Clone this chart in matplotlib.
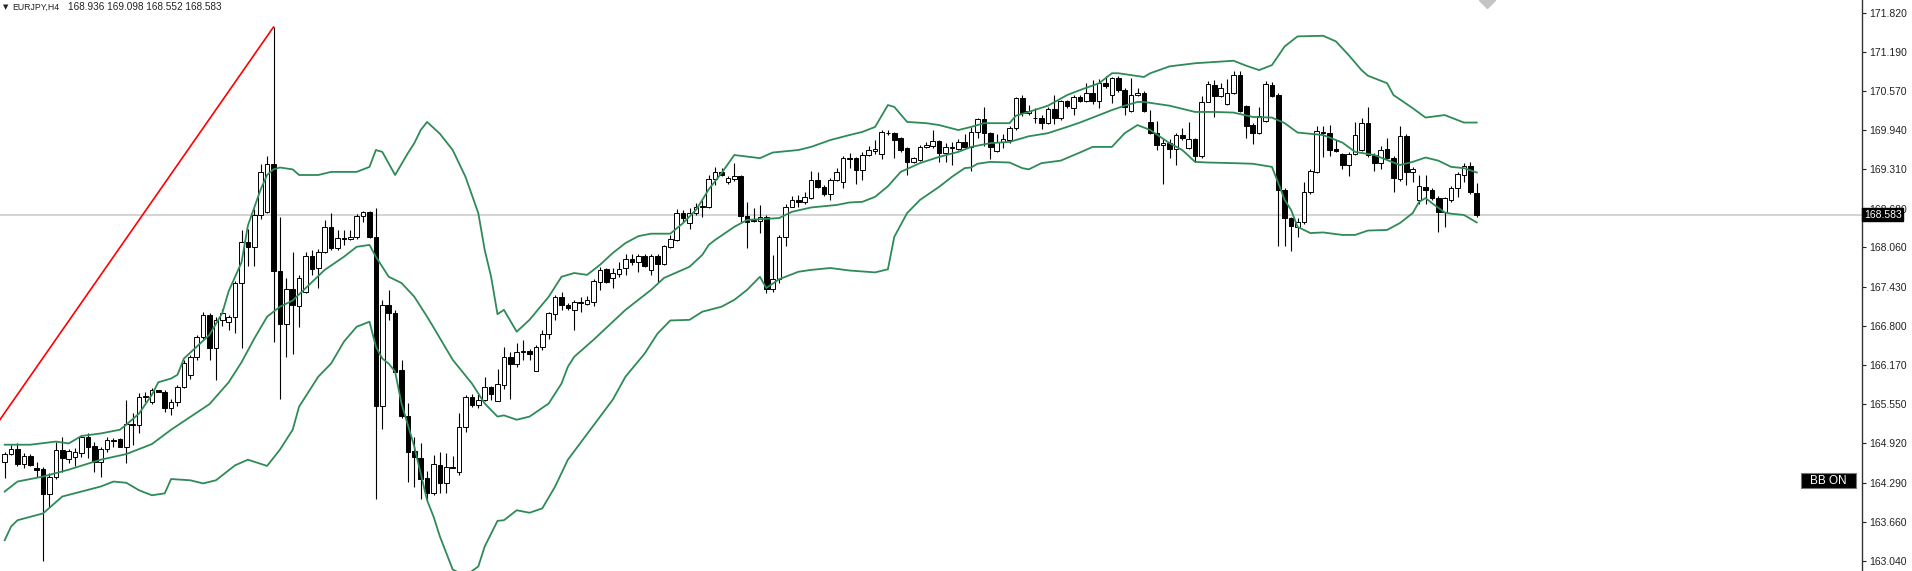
import numpy as np
import matplotlib.pyplot as plt
from matplotlib.patches import Rectangle

plt.rcParams['font.family'] = ['Liberation Sans', 'DejaVu Sans']

symbol = "EURJPY,H4"
last_ohlc = "168.936 169.098 168.552 168.583"
last_price = 168.583

# H4 candles, oldest first
opens = [
    164.62, 164.75, 164.83, 164.59, 164.72, 164.53, 164.51, 164.11, 164.38, 164.82,
    164.67, 164.70, 164.77, 165.02, 164.88, 164.63, 164.83, 164.98, 164.99, 164.87,
    165.23, 165.21, 165.66, 165.58, 165.77, 165.75, 165.48, 165.58, 165.83, 166.01,
    166.31, 166.63, 166.98, 166.45, 166.89, 166.87, 166.95, 167.49, 168.14, 168.06,
    168.58, 168.63, 169.39, 167.68, 166.84, 167.39, 167.12, 167.35, 167.92, 167.73,
    167.99, 168.39, 168.05, 168.21, 168.19, 168.23, 168.56, 168.62, 168.22, 165.52,
    167.14, 167.01, 166.09, 165.36, 164.80, 164.68, 164.36, 164.12, 164.58, 164.28,
    164.55, 164.47, 165.19, 165.67, 165.54, 165.61, 165.82, 165.60, 165.86, 166.30,
    166.20, 166.38, 166.40, 166.08, 166.46, 166.67, 166.99, 167.27, 167.14, 167.05,
    167.17, 167.15, 167.19, 167.51, 167.71, 167.57, 167.63, 167.73, 167.87, 167.82,
    167.92, 167.70, 167.92, 167.79, 168.07, 168.18, 168.61, 168.45, 168.61, 168.72,
    168.71, 169.15, 169.26, 169.10, 169.15, 169.20, 168.57, 168.50, 168.49, 168.55,
    167.39, 167.55, 168.22, 168.71, 168.82, 168.78, 168.85, 169.14, 169.03, 168.92,
    169.14, 169.10, 169.50, 169.49, 169.30, 169.54, 169.61, 169.56, 169.90, 169.89,
    169.81, 169.65, 169.43, 169.46, 169.67, 169.69, 169.76, 169.57, 169.66, 169.63,
    169.75, 169.67, 169.91, 170.11, 169.89, 169.61, 169.75, 169.78, 169.97, 170.45,
    170.21, 170.13, 170.13, 170.06, 170.27, 170.13, 170.40, 170.30, 170.47, 170.41,
    170.53, 170.41, 170.70, 170.50, 170.77, 170.58, 170.25, 170.50, 170.54, 170.07,
    169.90, 169.70, 169.74, 169.63, 169.86, 169.65, 169.79, 169.52, 170.39, 170.66,
    170.49, 170.36, 170.54, 170.82, 170.33, 170.02, 169.89, 170.09, 170.66, 170.50,
    168.98, 168.53, 168.39, 168.46, 168.94, 169.27, 169.91, 169.89, 169.63, 169.56,
    169.38, 169.56, 169.62, 170.06, 169.54, 169.41, 169.63, 169.50, 169.15, 169.85,
    169.27, 168.82, 169.02, 168.98, 168.85, 168.62, 168.82, 169.01, 169.22, 169.36,
    168.936,
]
highs = [
    164.79, 164.90, 164.93, 164.77, 164.75, 164.62, 164.54, 164.45, 164.95, 165.03,
    164.83, 164.84, 165.06, 165.09, 164.95, 164.86, 165.03, 165.00, 165.01, 165.62,
    165.40, 165.73, 165.75, 165.81, 165.78, 165.78, 165.64, 165.86, 166.25, 166.34,
    166.66, 167.02, 167.01, 166.95, 167.07, 166.98, 167.52, 168.34, 168.35, 168.67,
    169.40, 169.53, 171.59, 168.55, 167.57, 167.98, 167.62, 167.98, 168.02, 168.03,
    168.50, 168.61, 168.34, 168.34, 168.34, 168.60, 168.65, 168.64, 168.69, 167.22,
    167.38, 167.06, 166.25, 165.56, 165.03, 164.92, 164.48, 164.74, 164.79, 164.76,
    164.72, 165.40, 165.70, 165.72, 165.72, 165.99, 165.84, 166.12, 166.47, 166.39,
    166.53, 166.57, 166.43, 166.50, 166.74, 167.03, 167.30, 167.35, 167.17, 167.22,
    167.27, 167.28, 167.55, 167.75, 167.73, 167.73, 167.83, 167.95, 167.95, 167.95,
    167.95, 167.95, 167.95, 168.10, 168.26, 168.67, 168.66, 168.69, 168.77, 168.82,
    169.22, 169.35, 169.34, 169.20, 169.41, 169.22, 168.78, 168.69, 168.74, 168.58,
    167.94, 168.26, 168.76, 168.88, 168.90, 168.95, 169.29, 169.27, 169.06, 169.17,
    169.33, 169.52, 169.58, 169.51, 169.59, 169.68, 169.78, 169.94, 169.94, 169.91,
    169.83, 169.67, 169.51, 169.70, 169.75, 169.94, 169.78, 169.73, 169.75, 169.79,
    169.88, 169.99, 170.14, 170.31, 169.91, 169.88, 169.88, 170.01, 170.47, 170.50,
    170.34, 170.29, 170.18, 170.31, 170.50, 170.42, 170.42, 170.50, 170.50, 170.70,
    170.74, 170.75, 170.80, 170.79, 170.80, 170.61, 170.78, 170.61, 170.57, 170.26,
    170.09, 169.79, 169.79, 169.89, 169.97, 170.07, 169.81, 170.49, 170.73, 170.74,
    170.69, 170.75, 170.89, 170.88, 170.34, 170.05, 170.31, 170.73, 170.71, 170.53,
    169.01, 168.55, 168.53, 169.10, 169.32, 170.01, 170.00, 170.02, 169.78, 169.57,
    169.59, 170.07, 170.14, 170.31, 169.57, 169.69, 169.82, 169.52, 170.00, 169.88,
    169.35, 169.22, 169.22, 169.01, 168.88, 168.87, 169.04, 169.27, 169.41, 169.43,
    169.098,
]
lows = [
    164.36, 164.74, 164.56, 164.52, 164.56, 164.39, 163.03, 163.91, 164.35, 164.47,
    164.60, 164.56, 164.71, 164.68, 164.47, 164.39, 164.79, 164.87, 164.86, 164.61,
    164.90, 165.08, 165.59, 165.55, 165.74, 165.43, 165.37, 165.52, 165.81, 165.96,
    166.25, 166.60, 166.25, 165.93, 166.80, 166.74, 166.69, 166.45, 167.77, 167.77,
    168.52, 168.61, 166.54, 165.64, 166.31, 166.36, 166.79, 167.33, 167.62, 167.41,
    167.97, 168.02, 168.02, 168.10, 168.18, 168.19, 168.46, 168.21, 164.03, 165.15,
    166.90, 166.05, 165.33, 164.31, 164.22, 164.03, 164.01, 164.09, 164.13, 164.12,
    164.52, 164.42, 165.11, 165.50, 165.48, 165.60, 165.62, 165.60, 165.80, 165.63,
    166.14, 166.25, 166.25, 166.08, 166.41, 166.60, 166.89, 167.06, 167.05, 166.74,
    167.03, 167.14, 167.12, 167.38, 167.49, 167.41, 167.59, 167.62, 167.78, 167.67,
    167.75, 167.62, 167.50, 167.78, 168.05, 168.16, 168.47, 168.35, 168.58, 168.55,
    168.69, 169.06, 169.20, 169.08, 169.12, 168.47, 168.05, 168.47, 168.29, 167.33,
    167.34, 167.49, 168.08, 168.71, 168.71, 168.76, 168.84, 169.01, 168.88, 168.82,
    169.12, 169.01, 169.33, 169.08, 169.14, 169.52, 169.56, 169.47, 169.86, 169.49,
    169.59, 169.22, 169.41, 169.44, 169.65, 169.65, 169.43, 169.43, 169.38, 169.62,
    169.65, 169.29, 169.81, 169.69, 169.47, 169.59, 169.66, 169.74, 169.94, 170.16,
    170.18, 170.05, 169.95, 170.04, 170.04, 170.10, 170.30, 170.18, 170.39, 170.39,
    170.36, 170.30, 170.62, 170.38, 170.55, 170.18, 170.23, 170.49, 170.23, 169.87,
    169.62, 169.08, 169.49, 169.38, 169.78, 169.64, 169.43, 169.50, 170.39, 170.15,
    170.47, 170.34, 170.52, 170.23, 169.82, 169.72, 169.88, 170.07, 170.47, 168.08,
    168.08, 168.01, 168.22, 168.43, 168.92, 169.25, 169.51, 169.52, 169.59, 169.31,
    169.20, 169.54, 169.60, 169.51, 169.29, 169.31, 169.47, 168.94, 169.12, 169.06,
    169.11, 168.76, 168.76, 168.82, 168.30, 168.39, 168.79, 168.87, 169.11, 168.92,
    168.552,
]
closes = [
    164.75, 164.83, 164.59, 164.72, 164.58, 164.49, 164.11, 164.38, 164.82, 164.68,
    164.80, 164.78, 165.02, 164.87, 164.63, 164.83, 164.98, 164.96, 164.87, 165.23,
    165.21, 165.66, 165.68, 165.78, 165.75, 165.48, 165.58, 165.83, 166.21, 166.31,
    166.63, 166.98, 166.45, 166.89, 167.01, 166.94, 167.49, 168.14, 168.06, 168.58,
    169.27, 169.40, 167.68, 166.84, 167.39, 167.14, 167.57, 167.92, 167.71, 167.99,
    168.39, 168.05, 168.21, 168.19, 168.23, 168.56, 168.62, 168.22, 165.52, 167.14,
    167.01, 166.07, 165.36, 164.79, 164.71, 164.35, 164.12, 164.59, 164.29, 164.55,
    164.53, 165.19, 165.67, 165.54, 165.62, 165.82, 165.71, 165.87, 166.30, 166.20,
    166.38, 166.40, 166.35, 166.47, 166.67, 167.01, 167.27, 167.14, 167.09, 167.19,
    167.18, 167.21, 167.53, 167.70, 167.51, 167.65, 167.72, 167.88, 167.82, 167.92,
    167.76, 167.92, 167.79, 168.09, 168.19, 168.61, 168.53, 168.61, 168.70, 168.70,
    169.16, 169.26, 169.22, 169.17, 169.20, 168.56, 168.47, 168.48, 168.55, 167.39,
    167.55, 168.22, 168.71, 168.82, 168.78, 168.87, 169.14, 169.03, 168.92, 169.14,
    169.26, 169.50, 169.47, 169.30, 169.54, 169.62, 169.63, 169.91, 169.89, 169.78,
    169.62, 169.43, 169.49, 169.67, 169.70, 169.76, 169.57, 169.67, 169.67, 169.75,
    169.67, 169.91, 170.11, 169.89, 169.67, 169.75, 169.79, 169.98, 170.45, 170.21,
    170.24, 170.14, 170.06, 170.27, 170.13, 170.40, 170.33, 170.47, 170.41, 170.53,
    170.41, 170.70, 170.64, 170.77, 170.58, 170.31, 170.50, 170.54, 170.25, 169.90,
    169.70, 169.74, 169.63, 169.86, 169.81, 169.79, 169.52, 170.39, 170.68, 170.49,
    170.62, 170.54, 170.82, 170.25, 170.01, 169.89, 170.16, 170.68, 170.49, 168.98,
    168.53, 168.40, 168.46, 168.94, 169.29, 169.93, 169.89, 169.62, 169.61, 169.38,
    169.56, 169.86, 170.06, 169.54, 169.41, 169.62, 169.50, 169.17, 169.85, 169.27,
    169.31, 169.04, 168.98, 168.85, 168.62, 168.85, 169.01, 169.24, 169.36, 168.94,
    168.583,
]

# Bollinger bands, read at bar indices
upper_idx = [0, 4, 8, 10, 12, 15, 18, 19, 21, 23, 24, 26, 27, 28, 32, 34, 35, 37, 38, 40,
             41, 42, 43, 45, 46, 49, 51, 55, 57, 58, 59, 61, 63, 64, 65, 66, 68, 70, 72, 74,
             75, 76, 77, 78, 80, 82, 85, 87, 89, 91, 93, 95, 97, 99, 101, 104, 106, 108, 109, 110,
             112, 114, 118, 120, 124, 126, 129, 132, 134, 136, 138, 139, 141, 144, 146, 149, 151, 153, 157, 158,
             160, 163, 166, 168, 171, 173, 174, 178, 179, 182, 186, 192, 194, 196, 198, 200, 202, 206, 208, 210,
             212, 213, 216, 217, 219, 220, 222, 225, 228, 230]
upper_val = [164.90, 164.90, 164.95, 164.92, 165.04, 165.08, 165.14, 165.22, 165.40, 165.70,
             165.90, 165.96, 166.02, 166.28, 166.66, 167.01, 167.36, 167.82, 168.41, 168.99,
             169.22, 169.31, 169.34, 169.31, 169.22, 169.22, 169.27, 169.27, 169.35, 169.62,
             169.59, 169.22, 169.57, 169.73, 169.94, 170.07, 169.88, 169.62, 169.19, 168.61,
             168.02, 167.59, 166.99, 167.06, 166.71, 166.90, 167.27, 167.59, 167.65, 167.62,
             167.78, 167.97, 168.13, 168.24, 168.28, 168.28, 168.45, 168.66, 168.82, 168.99,
             169.25, 169.54, 169.49, 169.58, 169.62, 169.67, 169.78, 169.86, 169.91, 169.99,
             170.34, 170.31, 170.07, 170.05, 170.02, 169.94, 169.99, 170.05, 170.05, 170.17,
             170.23, 170.33, 170.50, 170.58, 170.69, 170.85, 170.85, 170.79, 170.85, 170.96,
             171.01, 171.05, 170.97, 170.90, 170.98, 171.28, 171.44, 171.45, 171.36, 171.14,
             170.90, 170.81, 170.69, 170.50, 170.36, 170.29, 170.14, 170.18, 170.06, 170.06]
middle_idx = [0, 2, 6, 10, 15, 19, 23, 26, 32, 35, 37, 39, 41, 43, 45, 50, 53, 55, 57, 58,
              60, 62, 64, 66, 67, 70, 73, 75, 77, 78, 80, 82, 85, 87, 88, 89, 92, 97, 101, 103,
              107, 109, 110, 111, 114, 116, 121, 123, 126, 130, 132, 134, 136, 138, 140, 143, 146, 149, 151, 154,
              157, 160, 163, 166, 168, 171, 173, 175, 177, 178, 182, 186, 189, 192, 195, 198, 200, 202, 203, 206,
              209, 211, 214, 216, 218, 220, 222, 224, 226, 228, 230]
middle_val = [164.15, 164.31, 164.39, 164.50, 164.66, 164.75, 164.91, 165.14, 165.55, 165.90,
              166.22, 166.60, 166.95, 167.11, 167.21, 167.70, 167.91, 168.07, 168.10, 167.91,
              167.59, 167.49, 167.27, 166.95, 166.78, 166.26, 165.88, 165.56, 165.35, 165.37,
              165.30, 165.35, 165.56, 165.88, 166.15, 166.31, 166.58, 167.06, 167.38, 167.57,
              167.75, 167.94, 168.10, 168.18, 168.39, 168.50, 168.53, 168.63, 168.70, 168.74,
              168.78, 168.79, 168.87, 169.04, 169.27, 169.41, 169.51, 169.59, 169.67, 169.73,
              169.75, 169.84, 169.89, 169.99, 170.06, 170.18, 170.26, 170.33, 170.39, 170.39,
              170.33, 170.23, 170.23, 170.22, 170.15, 170.14, 170.05, 169.90, 169.89, 169.86,
              169.74, 169.59, 169.54, 169.46, 169.38, 169.43, 169.50, 169.45, 169.35, 169.33,
              169.26]
lower_idx = [0, 1, 2, 6, 9, 12, 15, 17, 19, 21, 23, 25, 26, 29, 31, 33, 36, 38, 41, 43,
             45, 46, 49, 51, 53, 55, 57, 58, 59, 60, 61, 62, 64, 66, 67, 68, 70, 72, 74, 75,
             77, 78, 80, 82, 84, 86, 88, 95, 97, 100, 102, 104, 107, 109, 112, 114, 116, 118, 119, 121,
             124, 126, 129, 132, 136, 138, 139, 141, 143, 146, 148, 150, 151, 152, 154, 157, 159, 160, 162, 165,
             168, 170, 173, 175, 177, 179, 182, 184, 186, 188, 192, 195, 198, 199, 200, 201, 202, 204, 206, 209,
             211, 213, 216, 218, 220, 221, 222, 223, 225, 226, 228, 230]
lower_val = [163.37, 163.59, 163.69, 163.80, 164.07, 164.15, 164.23, 164.31, 164.29, 164.17,
             164.09, 164.12, 164.35, 164.33, 164.28, 164.33, 164.57, 164.66, 164.56, 164.82,
             165.14, 165.51, 165.99, 166.20, 166.55, 166.79, 166.87, 166.47, 166.28, 166.20,
             166.07, 165.56, 164.87, 164.01, 163.75, 163.43, 162.90, 162.80, 162.95, 163.27,
             163.68, 163.69, 163.85, 163.81, 163.88, 164.23, 164.66, 165.62, 165.99, 166.36,
             166.68, 166.89, 166.90, 167.03, 167.11, 167.22, 167.38, 167.59, 167.41, 167.55,
             167.67, 167.70, 167.73, 167.69, 167.66, 167.71, 168.23, 168.61, 168.82, 169.03,
             169.19, 169.33, 169.34, 169.40, 169.43, 169.42, 169.33, 169.31, 169.41, 169.45,
             169.58, 169.67, 169.67, 169.89, 170.02, 169.94, 169.73, 169.62, 169.43, 169.42,
             169.41, 169.40, 169.35, 169.09, 168.82, 168.66, 168.39, 168.29, 168.30, 168.26,
             168.26, 168.33, 168.34, 168.45, 168.61, 168.79, 168.85, 168.77, 168.62, 168.60,
             168.58, 168.46]

# red trend line (bar index, price)
trend_idx = [-0.75, 42]
trend_val = [165.30, 171.59]

price_ticks = [171.820, 171.190, 170.570, 169.940, 169.310, 168.680, 168.060, 167.430,
               166.800, 166.170, 165.550, 164.920, 164.290, 163.660, 163.040]

W, H = 1912, 571
fig = plt.figure(figsize=(W / 100, H / 100), dpi=100)
ax = fig.add_axes([0, 0, 1862 / W, 1])

o = np.array(opens)
h = np.array(highs)
l = np.array(lows)
c = np.array(closes)
x = np.arange(len(o))
bull = c >= o

ax.axhline(last_price, color='#d4d4d4', lw=1.4, zorder=1)
ax.vlines(x, l, h, color='black', lw=0.8, zorder=2)
ax.bar(x, np.abs(c - o), bottom=np.minimum(o, c), width=0.72,
       color=np.where(bull, 'white', 'black'), edgecolor='black', linewidth=0.7, zorder=3)

band_col = '#2e8b57'
ax.plot(upper_idx, upper_val, color=band_col, lw=1.3, zorder=4)
ax.plot(middle_idx, middle_val, color=band_col, lw=1.3, zorder=4)
ax.plot(lower_idx, lower_val, color=band_col, lw=1.3, zorder=4)
ax.plot(trend_idx, trend_val, color='red', lw=1.2, zorder=4)

# shift marker at the top
ax.plot([231.6], [172.02], marker='D', ms=8, color='#c4c4c4', zorder=5)

ax.set_xlim(-0.734, 290.2)
ax.set_ylim(162.877, 172.023)

for s in ['top', 'left', 'bottom']:
    ax.spines[s].set_visible(False)
ax.spines['right'].set_color('#333333')
ax.spines['right'].set_linewidth(1.0)
ax.set_xticks([])
ax.yaxis.tick_right()
ax.set_yticks(price_ticks)
ax.set_yticklabels([f"{v:.3f}" for v in price_ticks])
ax.tick_params(axis='y', length=3, width=0.8, pad=2, labelsize=7.5, colors='#222222')

# price tag of the last close (covers most of the 168.680 label, as in MT4)
ax.annotate(f"{last_price:.3f}", xy=(1.0, last_price), xycoords=('axes fraction', 'data'),
            xytext=(2, 0), textcoords='offset pixels', ha='left', va='center',
            fontsize=7.5, color='white', zorder=10, annotation_clip=False,
            bbox=dict(boxstyle='square,pad=0.15', fc='black', ec='black'))

# header
fig.text(3 / W, 1 - 7 / H, "\u25BC", fontsize=5, va='center', ha='left',
         family=['DejaVu Sans'], color='#222222')
fig.text(12.7 / W, 1 - 7 / H, symbol, fontsize=6.3, va='center', ha='left', color='#222222')
fig.text(68.5 / W, 1 - 7 / H, last_ohlc, fontsize=7.2, va='center', ha='left', color='#222222')

# BB ON button
fig.add_artist(Rectangle((1801 / W, 1 - 488 / H), 55 / W, 15 / H, transform=fig.transFigure,
                         facecolor='black', edgecolor='#777777', linewidth=0.8))
fig.text(1828.5 / W, 1 - 480.5 / H, "BB ON", fontsize=8.5, color='white', ha='center', va='center')

fig.savefig('out.png', dpi=100, facecolor='white')
